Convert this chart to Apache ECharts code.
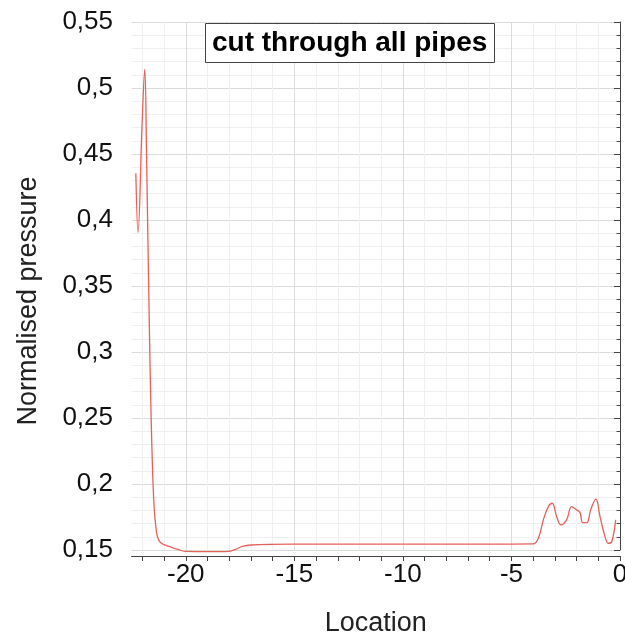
<!DOCTYPE html>
<html>
<head>
<meta charset="utf-8">
<script src="https://cdn.jsdelivr.net/npm/echarts@6/dist/echarts.min.js"></script>
<style>
  html, body { margin: 0; padding: 0; background: #fff; }
  #chart { width: 625px; height: 636px; }
</style>
</head>
<body>
<div id="chart"></div>
<script>
// Pressure profile along the cut line
const location_ = [-22.30, -22.20, -22.01, -21.89, -21.81, -21.66, -21.51, -21.38, -21.20, -20.74,
  -20.28, -20.0, -19.0, -18.5, -18.0, -17.7, -17.4, -17.0, -15, -10,
  -5, -4.0, -3.76, -3.53, -3.30, -3.12, -2.92, -2.72, -2.46, -2.23,
  -2.00, -1.84, -1.72, -1.53, -1.35, -1.11, -0.92, -0.69, -0.54, -0.38,
  -0.20];
const pressure = [0.4354, 0.3904, 0.4739, 0.5143, 0.4536, 0.3018, 0.2009, 0.1677, 0.1563, 0.1526,
  0.1500, 0.1489, 0.1487, 0.1487, 0.1490, 0.1505, 0.1527, 0.1538, 0.1544, 0.1545,
  0.1545, 0.1546, 0.1589, 0.1728, 0.1829, 0.1854, 0.1753, 0.1690, 0.1728, 0.1829,
  0.1804, 0.1783, 0.1707, 0.1707, 0.1804, 0.1885, 0.1753, 0.1601, 0.1551, 0.1563,
  0.1728];

// Axis ticks
const xMajorTicks = [-20, -15, -10, -5, 0];
const xMinorTicks = [-22, -21, -20, -19, -18, -17, -16, -15, -14, -13, -12, -11, -10, -9, -8, -7, -6, -5, -4, -3, -2, -1, 0];

const chart = echarts.init(document.getElementById('chart'), null, { renderer: 'canvas' });

const fmtComma = v => String(Number(v.toFixed(2))).replace('.', ',');

chart.setOption({
  animation: false,
  backgroundColor: '#ffffff',
  title: {
    text: 'cut through all pipes',
    left: 205,
    top: 23,
    padding: [5, 7],
    borderColor: '#444',
    borderWidth: 1,
    backgroundColor: '#ffffff',
    textStyle: {
      fontFamily: 'Liberation Sans',
      fontWeight: 'bold',
      fontSize: 28,
      lineHeight: 30,
      color: '#000'
    }
  },
  grid: { left: 131.5, right: 5, top: 22, bottom: 86, outerBoundsMode: 'none', containLabel: false },
  xAxis: [
    {
      type: 'value',
      min: -22.5,
      max: 0,
      offset: 6,
      name: 'Location',
      nameLocation: 'middle',
      nameGap: 54,
      nameTextStyle: { fontFamily: 'Liberation Sans', fontSize: 27, color: '#222' },
      axisLine: { show: true, lineStyle: { color: '#444', width: 1 } },
      axisTick: { show: true, length: 5, customValues: xMinorTicks, lineStyle: { color: '#444' } },
      axisLabel: {
        customValues: xMajorTicks,
        margin: 6,
        fontFamily: 'Liberation Sans',
        fontSize: 26,
        color: '#111',
        formatter: v => String(v)
      },
      splitLine: { show: true, lineStyle: { color: '#f0f0f0', width: 1 } }
    },
    {
      type: 'value',
      min: -22.5,
      max: 0,
      position: 'bottom',
      axisLine: { show: false },
      axisTick: { show: false, customValues: xMajorTicks },
      axisLabel: { show: false, customValues: xMajorTicks },
      splitLine: { show: true, lineStyle: { color: '#dcdcdc', width: 1 } }
    }
  ],
  yAxis: {
    type: 'value',
    min: 0.15,
    max: 0.55,
    interval: 0.05,
    offset: 8.5,
    name: 'Normalised pressure',
    nameLocation: 'middle',
    nameGap: 81,
    nameTextStyle: { fontFamily: 'Liberation Sans', fontSize: 27, color: '#222', padding: [0, 30, 0, 0] },
    axisLine: { show: true, lineStyle: { color: '#444', width: 1 } },
    axisTick: { show: true, length: 6, lineStyle: { color: '#444' } },
    minorTick: { show: true, splitNumber: 5, length: 3.5, lineStyle: { color: '#444' } },
    minorSplitLine: { show: true, lineStyle: { color: '#f0f0f0', width: 1 } },
    splitLine: { show: true, lineStyle: { color: '#dcdcdc', width: 1 } },
    axisLabel: {
      margin: 10,
      fontFamily: 'Liberation Sans',
      fontSize: 26,
      color: '#111',
      formatter: v => fmtComma(v)
    }
  },
  series: [{
    type: 'line',
    xAxisIndex: 0,
    data: location_.map((x, i) => [x, pressure[i]]),
    showSymbol: false,
    smooth: 0.4,
    clip: false,
    lineStyle: { color: '#e5625a', width: 1.3 },
    z: 5
  }]
});
</script>
</body>
</html>
